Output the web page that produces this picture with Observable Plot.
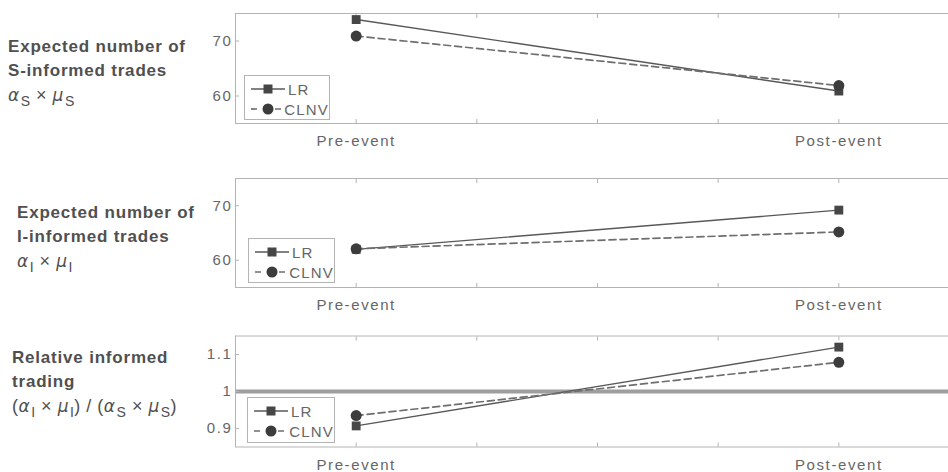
<!DOCTYPE html>
<html>
<head>
<meta charset="utf-8">
<script src="https://cdn.jsdelivr.net/npm/d3@7"></script>
<script src="https://cdn.jsdelivr.net/npm/@observablehq/plot@0.6"></script>
<style>
  html, body { margin: 0; padding: 0; background: #fff; }
  #root { position: relative; width: 948px; height: 472px; overflow: hidden; font-family: "Liberation Sans", Arial, sans-serif; }
  .panel { position: absolute; left: 0; }
  .panel svg text { letter-spacing: 1.6px; }
  .ylab { position: absolute; color: #505050; font-size: 17px; line-height: 24px; letter-spacing: 0.8px; white-space: nowrap; }
  .ylab b { font-weight: bold; }
  .ylab .m { font-weight: normal; font-size: 18px; letter-spacing: 0.5px; }
  .ylab .m i { font-family: "DejaVu Sans", sans-serif; font-size: 17px; }
  .ylab sub { font-size: 14px; vertical-align: -5px; margin-left: 1px; }
  .legend { position: absolute; background: #fff; border: 1px solid #b4b4b4; box-sizing: border-box; padding-top: 3px; }
  .legend .row { display: flex; align-items: center; height: 20px; color: #666; font-size: 15px; letter-spacing: 1.2px; }
  .legend .row svg { margin-left: 6px; margin-right: 3px; }
</style>
</head>
<body>
<div id="root"></div>
<script>
// ---- data ----
const periods = ["Pre-event", "Post-event"];
const periodPos = [1, 2];
const seriesNames = ["LR", "CLNV"];

// Expected number of S-informed trades
const sInformedLR = [73.9, 60.9];
const sInformedCLNV = [70.9, 61.9];
// Expected number of I-informed trades
const iInformedLR = [62.0, 69.2];
const iInformedCLNV = [62.1, 65.2];
// Relative informed trading
const relativeLR = [0.907, 1.12];
const relativeCLNV = [0.935, 1.079];

const countTicks = [60, 70];
const ratioTicks = [0.9, 1, 1.1];
const xTicks = [0.75, 1, 1.25, 1.5, 1.75, 2, 2.25];
const xDomain = [0.75, 2.25];

const root = document.getElementById("root");
const frameColor = "#b4b4b4";

function rows(vals) {
  return periodPos.map((x, i) => ({x, y: vals[i]}));
}

function panel({lr, clnv, yDomain, yTicks, yFormat, top, height, mt, mb, ref}) {
  const lrData = rows(lr), clData = rows(clnv);
  const marks = [];
  if (ref != null) marks.push(Plot.ruleY([ref], {stroke: "#9e9e9e", strokeWidth: 4}));
  marks.push(
    Plot.ruleY([yDomain[0], yDomain[1]], {stroke: frameColor, strokeWidth: 1}),
    Plot.ruleX([xDomain[0]], {stroke: frameColor, strokeWidth: 1}),
    Plot.axisY(yTicks, {anchor: "left", label: null, tickSize: -4, tickPadding: 7, stroke: frameColor, fill: "#666", tickFormat: yFormat}),
    Plot.axisX(xTicks, {anchor: "bottom", label: null, tickSize: -4, stroke: frameColor, tickFormat: () => ""}),
    Plot.axisX(xTicks, {anchor: "top", label: null, tickSize: -4, stroke: frameColor, tickFormat: () => ""}),
    Plot.axisX(periodPos, {anchor: "bottom", label: null, tickSize: 0, tickPadding: 12, fill: "#666", tickFormat: d => periods[periodPos.indexOf(d)]}),
    Plot.line(lrData, {x: "x", y: "y", stroke: "#585858", strokeWidth: 1.4}),
    Plot.line(clData, {x: "x", y: "y", stroke: "#6e6e6e", strokeWidth: 1.7, strokeDasharray: "7,4"}),
    Plot.dot(lrData, {x: "x", y: "y", symbol: "square", r: 5, fill: "#464646", stroke: "none"}),
    Plot.dot(clData, {x: "x", y: "y", symbol: "circle", r: 5.5, fill: "#3c3c3c", stroke: "none"})
  );
  const chart = Plot.plot({
    width: 948,
    height,
    marginLeft: 235,
    marginRight: -11,
    marginTop: mt,
    marginBottom: mb,
    style: {fontFamily: "'Liberation Sans', Arial, sans-serif", fontSize: "15px", color: "#666", background: "transparent", overflow: "visible"},
    x: {domain: xDomain, label: null},
    y: {domain: yDomain, label: null},
    marks
  });
  const wrap = document.createElement("div");
  wrap.className = "panel";
  wrap.style.top = top + "px";
  wrap.appendChild(chart);
  root.appendChild(wrap);
}

panel({lr: sInformedLR, clnv: sInformedCLNV, yDomain: [55, 75], yTicks: countTicks, yFormat: d3.format("d"),
       top: 0, height: 157, mt: 13, mb: 34});
panel({lr: iInformedLR, clnv: iInformedCLNV, yDomain: [55, 75], yTicks: countTicks, yFormat: d3.format("d"),
       top: 157, height: 157, mt: 21, mb: 27});
panel({lr: relativeLR, clnv: relativeCLNV, yDomain: [0.85, 1.15], yTicks: ratioTicks, yFormat: d => String(d),
       top: 314, height: 158, mt: 21.5, mb: 25.5, ref: 1});

// ---- left labels ----
const labels = [
  {left: 8, top: 35, html: "<b>Expected number of<br>S-informed trades</b><br><span class='m'><i>α</i><sub>S</sub> × <i>μ</i><sub>S</sub></span>"},
  {left: 17, top: 201, html: "<b>Expected number of<br>I-informed trades</b><br><span class='m'><i>α</i><sub>I</sub> × <i>μ</i><sub>I</sub></span>"},
  {left: 12, top: 346, html: "<b>Relative informed<br>trading</b><br><span class='m'>(<i>α</i><sub>I</sub> × <i>μ</i><sub>I</sub>) / (<i>α</i><sub>S</sub> × <i>μ</i><sub>S</sub>)</span>"}
];
for (const l of labels) {
  const d = document.createElement("div");
  d.className = "ylab";
  d.style.left = l.left + "px";
  d.style.top = l.top + "px";
  d.innerHTML = l.html;
  root.appendChild(d);
}

// ---- legends ----
const legendBoxes = [
  {left: 244, top: 75, width: 86, height: 45},
  {left: 248, top: 238, width: 87, height: 45},
  {left: 247, top: 397, width: 88, height: 46}
];
function glyph(name) {
  const ns = "http://www.w3.org/2000/svg";
  const s = document.createElementNS(ns, "svg");
  s.setAttribute("width", 34); s.setAttribute("height", 14);
  const ln = document.createElementNS(ns, "line");
  ln.setAttribute("x1", 0); ln.setAttribute("x2", 34); ln.setAttribute("y1", 7); ln.setAttribute("y2", 7);
  if (name === "LR") { ln.setAttribute("stroke", "#585858"); ln.setAttribute("stroke-width", 1.4); }
  else { ln.setAttribute("stroke", "#6e6e6e"); ln.setAttribute("stroke-width", 1.7); ln.setAttribute("stroke-dasharray", "6,6"); }
  s.appendChild(ln);
  if (name === "LR") {
    const r = document.createElementNS(ns, "rect");
    r.setAttribute("x", 12.5); r.setAttribute("y", 2.5); r.setAttribute("width", 9); r.setAttribute("height", 9); r.setAttribute("fill", "#464646");
    s.appendChild(r);
  } else {
    const c = document.createElementNS(ns, "circle");
    c.setAttribute("cx", 17); c.setAttribute("cy", 7); c.setAttribute("r", 5.5); c.setAttribute("fill", "#3c3c3c");
    s.appendChild(c);
  }
  return s;
}
for (const b of legendBoxes) {
  const d = document.createElement("div");
  d.className = "legend";
  Object.assign(d.style, {left: b.left + "px", top: b.top + "px", width: b.width + "px", height: b.height + "px"});
  for (const name of seriesNames) {
    const r = document.createElement("div");
    r.className = "row";
    r.appendChild(glyph(name));
    const t = document.createElement("span");
    t.textContent = name;
    r.appendChild(t);
    d.appendChild(r);
  }
  root.appendChild(d);
}
</script>
</body>
</html>
